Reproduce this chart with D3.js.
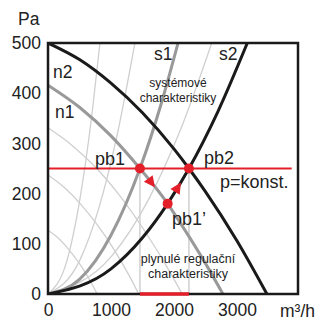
<!DOCTYPE html>
<html>
<head>
<meta charset="utf-8">
<script src="https://cdn.jsdelivr.net/npm/d3@7"></script>
<style>
  body { margin: 0; background: #fff; }
  svg text { font-family: "Liberation Sans", Arial, sans-serif; fill: #222; }
</style>
</head>
<body>
<svg id="chart" width="320" height="320"></svg>
<script>
// axis ticks
var xTicks = [0, 1000, 2000, 3000];
var yTicks = [0, 100, 200, 300, 400, 500];

// fan curves [Q m3/h, p Pa]
var n2 = [[0, 500], [500, 467], [1000, 420], [1500, 361], [2000, 289], [2238, 250], [2500, 204], [3000, 106], [3476, 0]];
var n1 = [[0, 416], [500, 372], [1000, 315], [1460, 250], [1900, 180], [2000, 161], [2500, 61], [2778, 0]];
var fanA = [[0, 331], [383, 296], [767, 251], [1120, 199], [1534, 126], [1917, 48], [2130, 0]];
var fanB = [[0, 237], [260, 212], [518, 179], [757, 142], [1037, 91], [1296, 35], [1440, 0]];
var fanC = [[0, 127], [140, 114], [281, 96], [410, 76], [562, 49], [702, 19], [780, 0]];

// system curves
var s1 = [[0, 0], [500, 29], [1000, 117], [1460, 250], [1800, 380], [2065, 500]];
var s2 = [[0, 0], [1000, 50], [1500, 112], [1900, 180], [2238, 250], [2700, 364], [3165, 500]];
var sysA = [[0, 0], [300, 66], [500, 184], [700, 360], [825, 500]];
var sysB = [[0, 0], [500, 66], [800, 168], [1100, 318], [1380, 500]];
var sysC = [[0, 0], [1000, 74], [1600, 189], [2100, 326], [2600, 500]];

// operating points
var pb1 = [1460, 250];
var pb2 = [2238, 250];
var pb1b = [1900, 180];
var pConst = 250;
var pConstEnd = 3870;

// arrow positions along the path [from, towards]
var arrows = [[[1640, 222], [1760, 202]], [[2060, 212], [2140, 228]]];

var svg = d3.select("#chart");
var x = d3.scaleLinear().domain([0, 3970]).range([48, 298]);
var y = d3.scaleLinear().domain([0, 500]).range([294, 43]);

svg.append("clipPath").attr("id", "plot")
  .append("rect").attr("x", 48).attr("y", 43).attr("width", 250).attr("height", 251);

var line = d3.line().x(d => x(d[0])).y(d => y(d[1])).curve(d3.curveMonotoneX);
var g = svg.append("g").attr("clip-path", "url(#plot)");

function curve(data, color, width) {
  g.append("path").datum(data)
    .attr("d", line).attr("fill", "none")
    .attr("stroke", color).attr("stroke-width", width);
}

[fanA, fanB, fanC, sysA, sysB, sysC].forEach(c => curve(c, "#cfcfcf", 1.3));

// vertical guides at operating flows
[pb1, pb2].forEach(function(p) {
  g.append("line")
    .attr("x1", x(p[0])).attr("x2", x(p[0]))
    .attr("y1", y(p[1])).attr("y2", y(0))
    .attr("stroke", "#cfcfcf").attr("stroke-width", 1.5);
});

curve(n1, "#999", 3);
curve(s1, "#999", 3);
curve(n2, "#1a1a1a", 3);
curve(s2, "#1a1a1a", 3);

var red = "#e3202a";
g.append("line")
  .attr("x1", x(0)).attr("x2", x(pConstEnd))
  .attr("y1", y(pConst)).attr("y2", y(pConst))
  .attr("stroke", red).attr("stroke-width", 2);

// frame
svg.append("rect")
  .attr("x", 48).attr("y", 43).attr("width", 250).attr("height", 251)
  .attr("fill", "none").attr("stroke", "#1a1a1a").attr("stroke-width", 2.5);

// flow range on the axis
svg.append("line")
  .attr("x1", x(pb1[0])).attr("x2", x(pb2[0]))
  .attr("y1", y(0)).attr("y2", y(0))
  .attr("stroke", red).attr("stroke-width", 3.5);

svg.selectAll(".pt").data([pb1, pb2, pb1b]).enter()
  .append("circle")
  .attr("cx", d => x(d[0])).attr("cy", d => y(d[1]))
  .attr("r", 5).attr("fill", red);

arrows.forEach(function(a) {
  var x0 = x(a[0][0]), y0 = y(a[0][1]);
  var ang = Math.atan2(y(a[1][1]) - y0, x(a[1][0]) - x0) * 180 / Math.PI;
  svg.append("path")
    .attr("d", "M6,0 L-5,-5.5 L-5,5.5 Z")
    .attr("fill", red)
    .attr("transform", "translate(" + x0 + "," + y0 + ") rotate(" + ang + ")");
});

// axes
var ax = svg.append("g").attr("transform", "translate(0,294)")
  .call(d3.axisBottom(x).tickValues(xTicks).tickSize(0).tickPadding(10).tickFormat(d3.format("d")));
var ay = svg.append("g").attr("transform", "translate(48,0)")
  .call(d3.axisLeft(y).tickValues(yTicks).tickSize(0).tickPadding(7).tickFormat(d3.format("d")));
[ax, ay].forEach(function(a) {
  a.select(".domain").remove();
  a.selectAll("text").attr("font-size", 17.5).attr("font-family", "Liberation Sans, Arial, sans-serif").attr("fill", "#222");
});

function label(t, px, py, size, anchor) {
  svg.append("text").attr("x", px).attr("y", py)
    .attr("font-size", size).attr("text-anchor", anchor || "start").text(t);
}
label("Pa", 18, 25, 17.5);
label("m³/h", 280, 317, 17.5);
label("n2", 53, 78, 17.5);
label("n1", 55, 118, 17.5);
label("s1", 154, 60, 17.5);
label("s2", 219, 60, 17.5);
label("systémové", 178, 87, 12, "middle");
label("charakteristiky", 178, 102, 12, "middle");
label("pb1", 95, 165, 18);
label("pb2", 204, 164, 18);
label("p=konst.", 220, 188, 18);
label("pb1’", 172, 225, 18);
label("plynulé regulační", 188, 263, 12.5, "middle");
label("charakteristiky", 188, 278, 12.5, "middle");
</script>
</body>
</html>
